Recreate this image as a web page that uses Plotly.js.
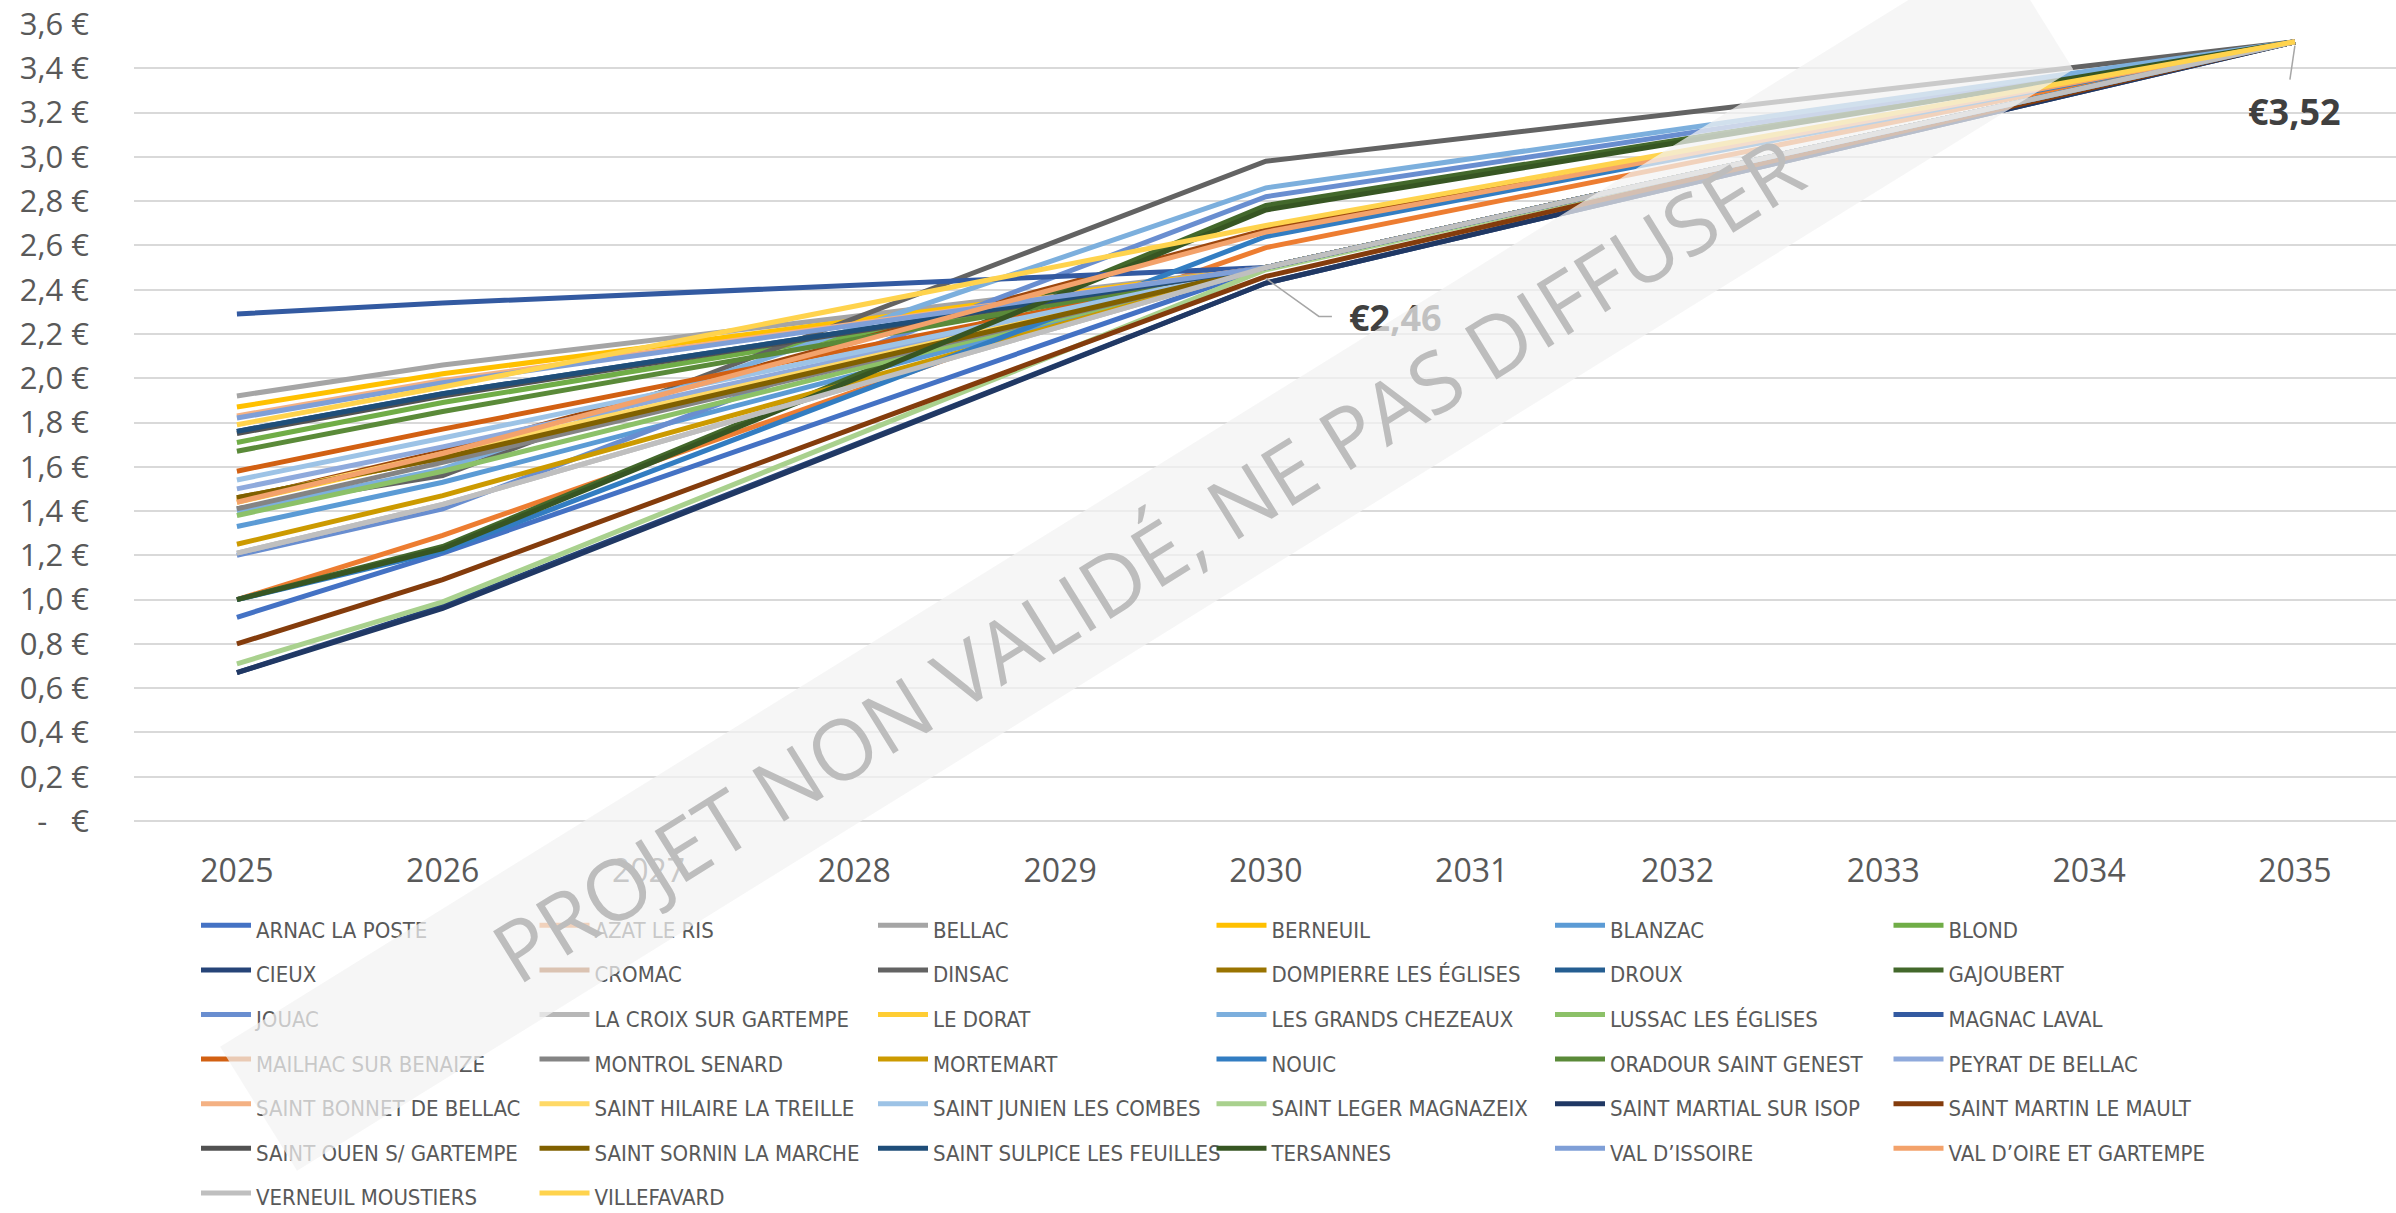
<!DOCTYPE html>
<html>
<head>
<meta charset="utf-8">
<script src="https://cdn.plot.ly/plotly-3.0.1.min.js"></script>
<style>
  html, body { margin: 0; padding: 0; background: #ffffff; }
  #chart { width: 2396px; height: 1213px; }
</style>
</head>
<body>
<div id="chart"></div>
<script>
// ---- DATA ----
const years = [2025, 2026, 2030, 2035];

const communes = [
  "ARNAC LA POSTE", "AZAT LE RIS", "BELLAC", "BERNEUIL", "BLANZAC", "BLOND",
  "CIEUX", "CROMAC", "DINSAC", "DOMPIERRE LES ÉGLISES", "DROUX", "GAJOUBERT",
  "JOUAC", "LA CROIX SUR GARTEMPE", "LE DORAT", "LES GRANDS CHEZEAUX", "LUSSAC LES ÉGLISES", "MAGNAC LAVAL",
  "MAILHAC SUR BENAIZE", "MONTROL SENARD", "MORTEMART", "NOUIC", "ORADOUR SAINT GENEST", "PEYRAT DE BELLAC",
  "SAINT BONNET DE BELLAC", "SAINT HILAIRE LA TREILLE", "SAINT JUNIEN LES COMBES", "SAINT LEGER MAGNAZEIX", "SAINT MARTIAL SUR ISOP", "SAINT MARTIN LE MAULT",
  "SAINT OUEN S/ GARTEMPE", "SAINT SORNIN LA MARCHE", "SAINT SULPICE LES FEUILLES", "TERSANNES", "VAL D’ISSOIRE", "VAL D’OIRE ET GARTEMPE",
  "VERNEUIL MOUSTIERS", "VILLEFAVARD"
];

const val2025 = [
  0.92, 1.00, 1.92, 1.87, 1.33, 1.71,
  0.67, 1.45, 1.41, 1.46, 1.76, 1.00,
  1.20, 1.21, 1.44, 1.40, 1.38, 2.29,
  1.58, 1.41, 1.25, 1.00, 1.67, 1.50,
  1.83, 1.45, 1.54, 0.71, 0.67, 0.80,
  1.75, 1.46, 1.76, 1.00, 1.82, 1.44,
  1.21, 1.79
];

const val2026 = [
  1.21, 1.29, 2.06, 2.02, 1.53, 1.89,
  0.97, 1.67, 1.56, 1.64, 1.93, 1.24,
  1.41, 1.43, 1.65, 1.59, 1.58, 2.34,
  1.77, 1.62, 1.47, 1.22, 1.85, 1.69,
  1.99, 1.66, 1.73, 0.99, 0.96, 1.09,
  1.92, 1.64, 1.93, 1.23, 1.98, 1.66,
  1.43, 1.96
];

const val2030 = [
  2.50, 2.59, 2.50, 2.50, 2.50, 2.50,
  2.43, 2.67, 2.98, 2.50, 2.50, 2.78,
  2.82, 2.50, 2.50, 2.86, 2.50, 2.50,
  2.50, 2.50, 2.50, 2.64, 2.50, 2.50,
  2.50, 2.50, 2.50, 2.49, 2.43, 2.46,
  2.50, 2.50, 2.50, 2.76, 2.50, 2.66,
  2.50, 2.69
];

const val2035 = [
  3.52, 3.52, 3.52, 3.52, 3.52, 3.52,
  3.52, 3.52, 3.52, 3.52, 3.52, 3.52,
  3.52, 3.52, 3.52, 3.52, 3.52, 3.52,
  3.52, 3.52, 3.52, 3.52, 3.52, 3.52,
  3.52, 3.52, 3.52, 3.52, 3.52, 3.52,
  3.52, 3.52, 3.52, 3.52, 3.52, 3.52,
  3.52, 3.52
];

const yTicks = [0, 0.2, 0.4, 0.6, 0.8, 1.0, 1.2, 1.4, 1.6, 1.8, 2.0, 2.2, 2.4, 2.6, 2.8, 3.0, 3.2, 3.4, 3.6];
const xTicks = [2025, 2026, 2027, 2028, 2029, 2030, 2031, 2032, 2033, 2034, 2035];

// data labels shown on the chart: [commune, year]
const labelPoints = [["SAINT MARTIN LE MAULT", 2030], ["VILLEFAVARD", 2035]];
const watermarkText = "PROJET NON VALIDÉ, NE PAS DIFFUSER";

// ---- STYLE ----
const colors = [
  "#4472C4", "#ED7D31", "#A5A5A5", "#FFC000", "#5B9BD5", "#70AD47",
  "#264478", "#9E480E", "#636363", "#997300", "#255E91", "#43682B",
  "#698ED0", "#B7B7B7", "#FFCD33", "#7CAFDD", "#8CC168", "#335AA1",
  "#D26012", "#848484", "#CC9A00", "#327DC2", "#5A8A39", "#8FAADC",
  "#F4B183", "#FFD966", "#9DC3E6", "#A9D18E", "#203864", "#843C0C",
  "#525252", "#806000", "#1F4E79", "#375623", "#7F9FD7", "#F3A26B",
  "#BFBFBF", "#FFD34D"
];

const traces = communes.map((name, i) => ({
  type: "scatter",
  mode: "lines",
  x: years,
  y: [val2025[i], val2026[i], val2030[i], val2035[i]],
  name: '<span style="font-size:22px">' + name + '</span>',
  line: { color: colors[i], width: 5 },
  hoverinfo: "skip"
}));

const fmtTick = v => v === 0 ? "-   €" : v.toFixed(1).replace(".", ",") + " €";
const fmtLabel = v => "€" + v.toFixed(2).replace(".", ",");

const valueAt = (name, year) => {
  const i = communes.indexOf(name);
  const j = years.indexOf(year);
  return [val2025, val2026, val2030, val2035][j][i];
};

const labelStyles = [
  { xshift: 130, yshift: -41, leader: "M0,-2 L53,-40 L66,-40" },
  { xshift: 0, yshift: -70, leader: "M0,-4 L-5,-38" }
];

const annotations = [];
const shapes = [];
labelPoints.forEach(([name, year], k) => {
  const v = valueAt(name, year);
  annotations.push({
    x: year, y: v, xref: "x", yref: "y",
    text: "<b>" + fmtLabel(v) + "</b>",
    showarrow: false,
    xanchor: "center", yanchor: "middle",
    xshift: labelStyles[k].xshift, yshift: labelStyles[k].yshift,
    font: { family: "Open Sans, sans-serif", size: 36, color: "#404040" }
  });
  shapes.push({
    type: "path", xref: "x", yref: "y",
    xsizemode: "pixel", ysizemode: "pixel",
    xanchor: year, yanchor: v,
    path: labelStyles[k].leader,
    line: { color: "#A6A6A6", width: 1.5 },
    layer: "above"
  });
});

// watermark band (drawn last so it sits on top)
const plotL = 134, plotW = 2262, plotB = 821, plotH = 797;
annotations.push({
  xref: "paper", yref: "paper",
  x: (1146 - plotL) / plotW, y: (plotB - 558) / plotH,
  xanchor: "center", yanchor: "middle",
  text: watermarkText,
  showarrow: false,
  textangle: -31.8,
  width: 2089, height: 145,
  align: "center", valign: "middle",
  bgcolor: "rgba(242,242,242,0.72)",
  borderpad: 0,
  font: { family: "Open Sans, sans-serif", size: 84, color: "#BDBDBD" }
});

const layout = {
  width: 2396, height: 1213,
  paper_bgcolor: "#ffffff", plot_bgcolor: "#ffffff",
  margin: { l: plotL, r: 0, t: 24, b: 392, autoexpand: false },
  showlegend: true,
  legend: {
    orientation: "h",
    x: (196 - plotL) / plotW, xanchor: "left",
    y: (plotB - 898) / plotH, yanchor: "top",
    entrywidth: 273.5, entrywidthmode: "pixels",
    itemwidth: 50,
    traceorder: "normal",
    bgcolor: "rgba(0,0,0,0)",
    font: { family: "Liberation Sans Narrow, DejaVu Sans Condensed, Arial Narrow, sans-serif", size: 32, color: "#595959" }
  },
  xaxis: {
    type: "linear",
    range: [2024.5, 2024.5 + plotW / 205.8],
    tickvals: xTicks,
    ticktext: xTicks.map(String),
    showgrid: false, zeroline: false, showline: false,
    ticks: "",
    ticklabelstandoff: 28,
    tickfont: { family: "Open Sans, sans-serif", size: 32, color: "#595959" },
    fixedrange: true
  },
  yaxis: {
    range: [0, 3.6],
    tickvals: yTicks,
    ticktext: yTicks.map(fmtTick),
    showgrid: true, gridcolor: "#D9D9D9", gridwidth: 2,
    zeroline: true, zerolinecolor: "#D9D9D9", zerolinewidth: 2,
    showline: false, ticks: "",
    ticklabelstandoff: 44,
    tickfont: { family: "Open Sans, sans-serif", size: 31, color: "#595959" },
    fixedrange: true
  },
  annotations: annotations,
  shapes: shapes
};

Plotly.newPlot("chart", traces, layout, { displayModeBar: false, staticPlot: true });
</script>
</body>
</html>
